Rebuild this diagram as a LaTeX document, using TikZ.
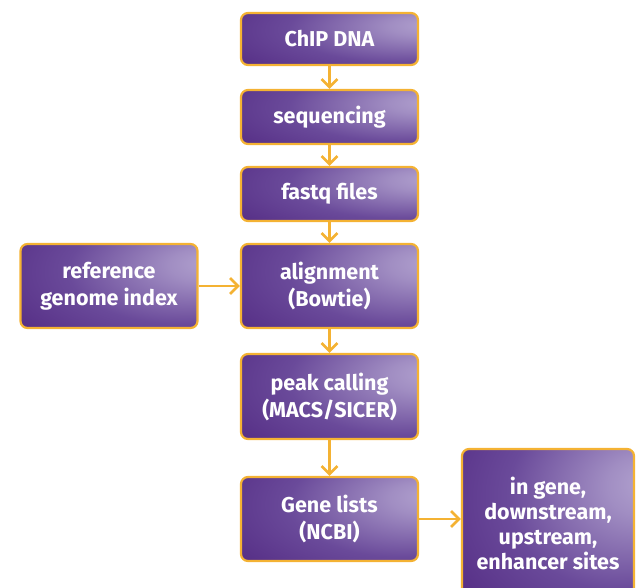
\documentclass[tikz,border=0pt]{standalone}
\usepackage{fontspec}
\setmainfont{Fira Sans}
\usetikzlibrary{arrows.meta}
\definecolor{boxdark}{HTML}{4A1E7A}
\definecolor{boxmid}{HTML}{6A4A9A}
\definecolor{boxlight}{HTML}{B3A4D0}
\definecolor{gold}{HTML}{F4B233}
\pgfdeclareradialshading{boxshade}{\pgfpoint{30bp}{14bp}}{color(0bp)=(boxlight); color(10bp)=(boxlight!75!boxmid); color(32bp)=(boxmid); color(62bp)=(boxdark); color(100bp)=(boxdark!80!boxmid)}
\tikzset{
  stepbox/.style={draw=gold, line width=2.2pt, rounded corners=7pt, shading=boxshade,
    text=white, minimum width=177pt, align=center, inner sep=0pt,
    font=\fontsize{21.5}{27}\selectfont\bfseries},
  flow/.style={draw=gold, line width=2.6pt, -{Straight Barb[length=8pt,width=16pt]}},
}
\begin{document}
\begin{tikzpicture}[x=1pt,y=-1pt]
\useasboundingbox (0,0) rectangle (636,587);
\clip (0,0) rectangle (636,587);
\node[stepbox, minimum height=52pt] (chip) at (329.5,39) {ChIP DNA};
\node[stepbox, minimum height=54pt] (seq) at (329.5,117) {sequencing};
\node[stepbox, minimum height=54pt] (fastq) at (329.5,194) {fastq files};
\node[stepbox, minimum height=84pt] (align) at (329.5,286) {alignment\\(Bowtie)};
\node[stepbox, minimum height=84pt] (ref) at (109,286) {reference\\genome index};
\node[stepbox, minimum height=148pt, minimum width=172pt, font=\fontsize{21.5}{25}\selectfont\bfseries] (sites) at (548,523) {in gene,\\downstream,\\upstream,\\enhancer sites};
\node[stepbox, minimum height=85pt] (peak) at (329.5,396.5) {peak calling\\(MACS/SICER)};
\node[stepbox, minimum height=84pt] (gene) at (329.5,519) {Gene lists\\(NCBI)};
\draw[flow] (chip) -- (seq);
\draw[flow] (seq) -- (fastq);
\draw[flow] (fastq) -- (align);
\draw[flow] (ref) -- (align);
\draw[flow] (align) -- (peak);
\draw[flow] (peak) -- (gene);
\draw[flow] (gene.east) -- (sites.west |- gene.east);
\end{tikzpicture}
\end{document}
